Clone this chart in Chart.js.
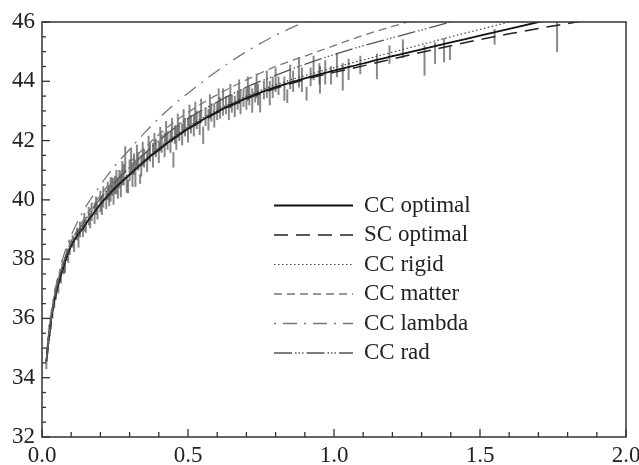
<!DOCTYPE html>
<html><head><meta charset="utf-8">
<script src="https://cdn.jsdelivr.net/npm/chart.js@4.4.0/dist/chart.umd.min.js"></script>
<style>html,body{margin:0;padding:0;background:#fff}</style>
</head><body>
<canvas id="c" width="639" height="465"></canvas>
<script>
// ---- tick labels ----
const xTicks = [0.0, 0.5, 1.0, 1.5, 2.0];
const yTicks = [32, 34, 36, 38, 40, 42, 44, 46];

// ---- model curves (distance modulus read at these redshifts) ----
const seriesNames = ['CC optimal', 'SC optimal', 'CC rigid', 'CC matter', 'CC lambda', 'CC rad'];
const zGrid     = [0.015,0.025,0.04,0.06,0.08,0.1,0.14,0.2,0.25,0.3,0.35,0.4,0.45,0.5,0.6,0.7,0.8,0.9,1.0,1.1,1.2,1.3,1.4,1.5,1.6,1.7,1.8,1.9,2.0];
const ccOptimal = [34.55,35.5,36.5,37.3,37.95,38.45,39.05,39.85,40.4,40.85,41.3,41.7,42.07,42.4,42.97,43.43,43.8,44.1,44.36,44.6,44.85,45.08,45.31,45.54,45.77,46.0,46.22,null,null];
const scOptimal = [34.55,35.5,36.5,37.3,37.95,38.45,39.05,39.84,40.39,40.84,41.28,41.68,42.05,42.38,42.94,43.4,43.76,44.06,44.3,44.52,44.75,44.98,45.2,45.41,45.6,45.78,45.95,46.12,null];
const ccRigid   = [34.56,35.52,36.52,37.32,37.97,38.47,39.08,39.88,40.43,40.89,41.34,41.75,42.12,42.46,43.03,43.5,43.88,44.19,44.46,44.72,44.98,45.24,45.5,45.75,46.0,46.25,null,null,null];
const ccMatter  = [34.55,35.55,36.6,37.45,38.1,38.6,39.3,40.15,40.75,41.25,41.75,42.2,42.6,42.95,43.55,44.05,44.5,44.85,45.2,45.55,45.85,46.15,null,null,null,null,null,null,null];
const ccLambda  = [34.6,35.6,36.7,37.6,38.3,38.8,39.6,40.5,41.15,41.7,42.25,42.75,43.2,43.6,44.35,45.0,45.55,46.0,46.4,null,null,null,null,null,null,null,null,null,null];
const ccRad     = [34.55,35.55,36.55,37.4,38.05,38.55,39.2,40.05,40.6,41.1,41.55,42.0,42.4,42.75,43.3,43.8,44.2,44.57,44.9,45.2,45.47,45.73,46.0,46.25,null,null,null,null,null];

// ---- supernova data: [redshift, distance modulus, error] ----
const supernovae = [
 [0.015,34.45,0.15],[0.017,34.9,0.12],[0.019,34.95,0.15],[0.021,35.25,0.12],[0.023,35.3,0.15],
 [0.025,35.6,0.18],[0.027,35.55,0.15],[0.029,35.9,0.15],[0.031,35.85,0.2],[0.033,36.15,0.15],
 [0.036,36.2,0.18],[0.039,36.5,0.15],[0.042,36.55,0.2],[0.045,36.85,0.18],[0.048,36.8,0.15],
 [0.052,37.1,0.2],[0.056,37.05,0.2],[0.06,37.4,0.18],[0.065,37.4,0.2],[0.07,37.75,0.22],
 [0.075,37.7,0.2],[0.079,37.8,0.25],[0.085,38.15,0.2],[0.09,38.1,0.22],[0.095,38.4,0.25],
 [0.105,38.6,0.2],[0.11,38.5,0.25],[0.12,38.85,0.2],[0.125,38.7,0.3],[0.13,39.0,0.25],
 [0.14,38.95,0.2],[0.145,39.25,0.3],[0.15,39.15,0.25],[0.16,39.45,0.3],[0.165,39.3,0.25],
 [0.17,39.6,0.3],[0.18,39.55,0.35],[0.185,39.8,0.3],[0.19,39.6,0.25],[0.2,39.95,0.35],
 [0.205,39.8,0.3],[0.21,40.1,0.35],[0.22,40.0,0.3],[0.225,40.3,0.3],[0.23,40.15,0.35],
 [0.235,40.35,0.4],[0.24,40.45,0.3],[0.245,40.25,0.4],[0.25,40.5,0.3],[0.255,40.6,0.4],
 [0.26,40.4,0.35],[0.265,40.7,0.3],[0.27,40.5,0.4],[0.275,40.9,0.4],[0.28,40.85,0.35],
 [0.285,41.35,0.45],[0.29,40.55,0.3],[0.295,40.45,0.22],[0.3,41.0,0.35],[0.305,41.3,0.45],
 [0.31,40.85,0.4],[0.315,41.2,0.35],[0.32,40.9,0.45],[0.325,41.45,0.4],[0.33,41.3,0.3],
 [0.336,40.7,0.15],[0.34,41.15,0.35],[0.345,41.55,0.4],
 [0.35,41.4,0.3],[0.36,41.3,0.35],[0.365,41.75,0.4],[0.37,41.6,0.3],[0.38,41.5,0.4],
 [0.385,41.9,0.35],[0.39,41.75,0.3],[0.4,41.6,0.35],[0.405,42.05,0.4],[0.41,41.9,0.3],
 [0.42,41.85,0.4],[0.425,42.25,0.4],[0.43,42.0,0.3],[0.44,41.95,0.35],[0.445,42.35,0.4],
 [0.45,41.35,0.25],[0.455,42.2,0.3],[0.46,42.1,0.4],[0.465,42.5,0.4],[0.47,42.3,0.3],
 [0.48,42.2,0.35],[0.485,42.65,0.4],[0.49,42.45,0.3],[0.5,42.35,0.4],[0.505,42.8,0.4],
 [0.51,42.55,0.3],[0.52,42.5,0.35],[0.525,42.9,0.4],[0.53,42.7,0.3],[0.54,42.6,0.4],
 [0.545,43.0,0.4],[0.552,42.18,0.28],[0.56,42.8,0.3],[0.57,42.7,0.35],[0.575,43.15,0.4],
 [0.58,42.95,0.3],[0.59,42.85,0.4],[0.6,43.0,0.3],[0.605,43.35,0.4],[0.61,43.1,0.35],
 [0.62,43.3,0.45],[0.63,43.2,0.3],[0.64,43.1,0.4],[0.645,43.5,0.4],[0.65,43.25,0.3],
 [0.66,43.15,0.35],[0.67,43.35,0.3],[0.675,43.65,0.4],[0.68,43.3,0.4],[0.69,43.45,0.3],
 [0.7,43.4,0.35],[0.705,43.75,0.4],[0.71,43.5,0.3],[0.72,43.35,0.4],[0.73,43.6,0.3],
 [0.735,43.85,0.4],[0.74,43.55,0.35],[0.747,43.28,0.32],[0.76,43.7,0.3],[0.77,43.9,0.45],
 [0.78,43.6,0.4],[0.79,43.8,0.35],[0.8,44.05,0.4],[0.81,43.85,0.3],[0.83,43.75,0.4],
 [0.84,43.5,0.22],[0.85,44.15,0.4],[0.86,44.0,0.35],[0.88,44.3,0.5],[0.89,44.05,0.4],
 [0.906,43.58,0.22],[0.92,44.15,0.3],[0.93,44.45,0.4],[0.95,44.25,0.35],[0.952,44.05,0.45],
 [0.97,44.3,0.4],[0.99,44.2,0.3],[1.01,44.55,0.4],[1.03,44.15,0.45],[1.05,44.4,0.35],
 [1.09,44.55,0.3],[1.147,44.5,0.42],[1.19,44.9,0.3],[1.236,45.1,0.3],[1.31,44.7,0.5],
 [1.346,44.95,0.35],[1.377,45.05,0.4],[1.397,44.95,0.22],[1.55,45.5,0.25],[1.764,45.5,0.5]
];

// ---- styles ----
const lineStyles = [
  {color:'#111', width:1.8, dash:[]},
  {color:'#222', width:1.5, dash:[14,8]},
  {color:'#444', width:1.2, dash:[1.5,2.5]},
  {color:'#777', width:1.3, dash:[8,5]},
  {color:'#777', width:1.3, dash:[2,7,14,7]},
  {color:'#555', width:1.3, dash:[18,3,1.5,2,1.5,2,1.5,3]}
];
const curveValues = [ccOptimal, scOptimal, ccRigid, ccMatter, ccLambda, ccRad];
const SERIF = '"Liberation Serif", "Times New Roman", serif';
const FONT_SIZE = 23;

const lineDatasets = curveValues.map((vals, i) => ({
  type: 'scatter',
  label: seriesNames[i],
  data: zGrid.map((z, k) => ({x: z, y: vals[k]})),
  showLine: true,
  spanGaps: false,
  borderColor: lineStyles[i].color,
  borderWidth: lineStyles[i].width,
  borderDash: lineStyles[i].dash,
  pointRadius: 0,
  cubicInterpolationMode: 'monotone',
  order: 1 + (5 - i)
}));

const errorBars = {
  type: 'bar',
  label: 'data',
  data: supernovae.map(r => ({x: r[0], y: [r[1] - r[2], r[1] + r[2]]})),
  backgroundColor: 'rgba(70,70,70,0.65)',
  borderWidth: 0,
  barThickness: 1.3,
  grouped: false,
  order: 20
};

const framePlugin = {
  id: 'frame',
  afterDatasetsDraw(chart) {
    const {ctx, chartArea: a, scales: {x, y}} = chart;
    ctx.save();
    ctx.strokeStyle = '#333';
    ctx.lineWidth = 1.5;
    ctx.setLineDash([]);
    ctx.strokeRect(a.left, a.top, a.right - a.left, a.bottom - a.top);
    ctx.lineWidth = 1.3;
    for (let i = 0; i <= 20; i++) {
      const px = x.getPixelForValue(i * 0.1);
      const len = (i % 5 === 0) ? 8 : 5;
      ctx.beginPath(); ctx.moveTo(px, a.bottom); ctx.lineTo(px, a.bottom - len); ctx.stroke();
    }
    for (let i = 0; i <= 28; i++) {
      const py = y.getPixelForValue(32 + i * 0.5);
      const len = (i % 4 === 0) ? 8 : 4;
      ctx.beginPath(); ctx.moveTo(a.left, py); ctx.lineTo(a.left + len, py); ctx.stroke();
    }
    // legend inside the plot
    const lx0 = 274, lx1 = 353, tx = 364, ty0 = 205.5, dy = 29.5;
    ctx.font = FONT_SIZE + 'px ' + SERIF;
    ctx.fillStyle = '#222';
    ctx.textBaseline = 'middle';
    ctx.textAlign = 'left';
    seriesNames.forEach((name, i) => {
      const yy = ty0 + i * dy;
      const st = lineStyles[i];
      ctx.strokeStyle = st.color;
      ctx.lineWidth = st.width;
      ctx.setLineDash(st.dash);
      ctx.beginPath(); ctx.moveTo(lx0, yy); ctx.lineTo(lx1, yy); ctx.stroke();
      ctx.setLineDash([]);
      ctx.fillText(name, tx, yy);
    });
    ctx.restore();
  }
};

new Chart(document.getElementById('c'), {
  type: 'scatter',
  data: { datasets: [...lineDatasets, errorBars] },
  options: {
    responsive: false,
    devicePixelRatio: 1,
    animation: false,
    layout: { padding: {top: 22, right: 13, left: 0, bottom: 0} },
    plugins: { legend: {display: false}, tooltip: {enabled: false} },
    scales: {
      x: {
        type: 'linear', min: 0, max: 2, offset: false,
        grid: {display: false, drawTicks: false},
        border: {display: false},
        afterBuildTicks: s => { s.ticks = xTicks.map(v => ({value: v})); },
        afterFit: s => { s.height = 28; s.paddingLeft = 0; s.paddingRight = 0; },
        ticks: {
          callback: v => Number(v).toFixed(1),
          font: {family: SERIF, size: FONT_SIZE}, color: '#222', padding: 5,
          maxRotation: 0, autoSkip: false
        }
      },
      y: {
        type: 'linear', min: 32, max: 46,
        grid: {display: false, drawTicks: false},
        border: {display: false},
        afterBuildTicks: s => { s.ticks = yTicks.map(v => ({value: v})); },
        afterFit: s => { s.width = 42; },
        ticks: {
          callback: v => String(v),
          font: {family: SERIF, size: FONT_SIZE}, color: '#222', padding: 7,
          autoSkip: false
        }
      }
    }
  },
  plugins: [framePlugin]
});
</script>
</body></html>
